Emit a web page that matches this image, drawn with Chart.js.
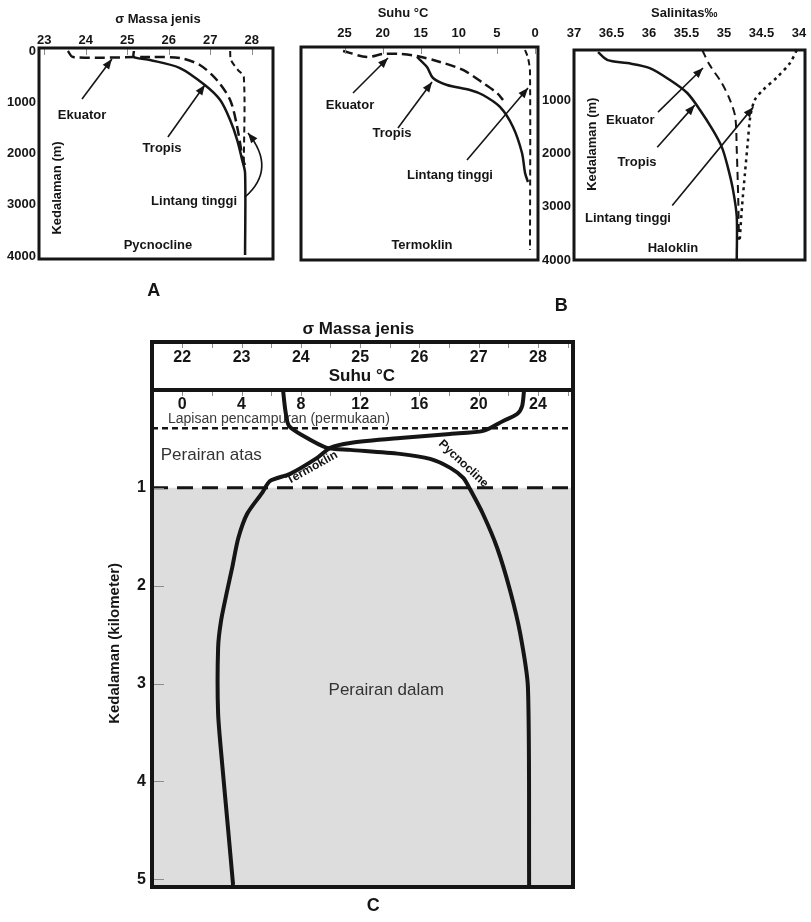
<!DOCTYPE html>
<html lang="id">
<head>
<meta charset="utf-8">
<title>Profil massa jenis, suhu dan salinitas</title>
<script src="https://cdn.jsdelivr.net/npm/chart.js@4.4.1/dist/chart.umd.min.js"></script>
<style>
  html, body { margin: 0; padding: 0; background: #ffffff; }
  #sheet { position: relative; width: 811px; height: 922px; overflow: hidden; background: #ffffff; }
  #sheet canvas { position: absolute; left: 0; top: 0; pointer-events: none; }
</style>
</head>
<body>
<div id="sheet">
  <canvas id="panelA" width="811" height="922"></canvas>
  <canvas id="panelB1" width="811" height="922"></canvas>
  <canvas id="panelB2" width="811" height="922"></canvas>
  <canvas id="panelC" width="811" height="922"></canvas>
</div>
<script>
const INK = '#151515';
const FONT = '"Liberation Sans", Arial, Helvetica, sans-serif';
const W = 811, H = 922;

// ---------- A: sigma-t density profiles (depth in m) ----------
const aSigmaTicks = [23, 24, 25, 26, 27, 28];
const aDepthTicks = [0, 1000, 2000, 3000, 4000];
const aEquatorDepth = [0, 117, 117, 137, 273, 566, 956, 1483, 2127, 2224];
const aEquatorSigma = [23.57, 23.69, 25.6, 26.27, 26.75, 27.16, 27.48, 27.65, 27.79, 27.84];
const aTropicDepth = [0, 117, 176, 332, 663, 956, 1346, 1737, 2127, 2380, 3980];
const aTropicSigma = [25.16, 25.16, 25.55, 26.27, 26.87, 27.24, 27.48, 27.65, 27.77, 27.84, 27.84];
const aPolarDepth = [0, 176, 371, 507, 2224];
const aPolarSigma = [27.48, 27.50, 27.67, 27.81, 27.81];

// ---------- B: temperature profiles (depth in m) ----------
const bTempTicks = [25, 20, 15, 10, 5, 0];
const bEquatorDepth = [20, 135, 77, 77, 116, 232, 386, 638, 831, 966];
const bEquatorTemp = [25.2, 22.06, 19.96, 17.72, 15.49, 12.47, 9.45, 6.83, 4.99, 4.2];
const bTropicDepth = [135, 329, 541, 676, 773, 870, 1101, 1488, 1990, 2377, 2551];
const bTropicTemp = [15.49, 14.18, 13.39, 11.55, 8.53, 6.83, 4.6, 2.89, 1.71, 1.31, 0.92];
const bPolarDepth = [0, 155, 425, 3865];
const bPolarTemp = [1.31, 0.92, 0.66, 0.66];

// ---------- B: salinity profiles (depth in m) ----------
const sSalTicks = [37, 36.5, 36, 35.5, 35, 34.5, 34];
const sDepthTicks = [1000, 2000, 3000, 4000];
const sEquatorDepth = [47, 329, 667, 987, 1306, 1927, 2867, 3618];
const sEquatorSal = [35.29, 35.19, 35.03, 34.92, 34.85, 34.83, 34.81, 34.80];
const sTropicDepth = [85, 235, 291, 385, 611, 855, 1175, 1551, 1870, 2246, 2679, 3186, 3994];
const sTropicSal = [36.68, 36.55, 36.29, 35.99, 35.72, 35.49, 35.32, 35.15, 35.03, 34.95, 34.88, 34.83, 34.83];
const sPolarDepth = [47, 291, 555, 799, 987, 1306, 1739, 2359, 2998, 3618];
const sPolarSal = [34.03, 34.12, 34.29, 34.48, 34.59, 34.65, 34.68, 34.72, 34.76, 34.79];

// ---------- C: combined density / temperature profile (depth in km) ----------
const cSigmaTicks = [22, 23, 24, 25, 26, 27, 28];
const cTempTicks = [0, 4, 8, 12, 16, 20, 24];
const cDepthTicks = [1, 2, 3, 4, 5];
const cLayerDepths = [0.39, 1.0];   // mixed layer base, upper-water base
const cSigmaDepth = [0, 0.214, 0.367, 0.469, 0.592, 0.612, 0.653, 0.704, 0.796, 0.898, 1.01, 1.265, 1.612, 2.051, 2.49, 3.04, 5.06];
const cSigma = [23.70, 23.74, 23.80, 24.04, 24.44, 24.83, 25.67, 26.18, 26.52, 26.74, 26.85, 27.07, 27.31, 27.53, 27.70, 27.83, 27.85];
const cTempDepth = [0, 0.163, 0.245, 0.316, 0.418, 0.449, 0.49, 0.541, 0.592, 0.694, 0.857, 0.929, 1.051, 1.265, 1.52, 1.816, 2.051, 2.357, 2.633, 3.306, 3.816, 4.5, 5.06];
const cTemp = [23.06, 22.93, 22.59, 21.65, 20.30, 18.07, 14.70, 11.33, 9.98, 9.10, 7.28, 5.93, 5.39, 4.38, 3.77, 3.37, 3.03, 2.62, 2.42, 2.42, 2.69, 3.10, 3.43];

// ---------- helpers ----------
const pts = (xs, ys) => xs.map((v, i) => ({ x: v, y: ys[i] }));

function profile(label, xs, ys, width, dash, extra) {
  return Object.assign({
    label, data: pts(xs, ys), borderColor: INK, borderWidth: width,
    borderDash: dash, pointRadius: 0, tension: 0.3, fill: false,
    borderCapStyle: 'butt', borderJoinStyle: 'round'
  }, extra || {});
}

// top value axis; labels are mirrored so they are never clipped to the axis box
// (with mirror, a negative padding lifts them above the frame)
function topAxis(c) {
  return {
    type: 'linear', position: 'top', min: c.min, max: c.max, reverse: !!c.reverse,
    grid: { display: false, drawTicks: false }, border: { display: false },
    ticks: {
      mirror: true, autoSkip: false, maxRotation: 0, minRotation: 0, padding: c.pad, color: INK,
      font: { family: FONT, size: c.size || 13, weight: 'bold' },
      callback: v => String(v)
    },
    afterBuildTicks: s => { s.ticks = c.ticks.map(v => ({ value: v })); },
    afterFit: s => { s.height = 0; }
  };
}

// depth axis on the left, growing downward
function leftAxis(c) {
  if (!c.ticks) return { type: 'linear', display: false, reverse: true, min: c.min, max: c.max };
  return {
    type: 'linear', position: 'left', min: c.min, max: c.max, reverse: true,
    grid: { display: false, drawTicks: false }, border: { display: false },
    ticks: {
      autoSkip: false, padding: c.pad, color: INK,
      font: { family: FONT, size: c.size || 13, weight: 'bold' },
      callback: v => String(v)
    },
    afterBuildTicks: s => { s.ticks = c.ticks.map(v => ({ value: v })); },
    afterFit: s => { s.width = c.width; }
  };
}

function baseOptions(box, yWidth, scales, decor) {
  return {
    responsive: false, animation: false, devicePixelRatio: 1,
    layout: { padding: { left: box[0] - yWidth, top: box[1], right: W - box[2], bottom: H - box[3] } },
    scales,
    plugins: { legend: { display: false }, tooltip: { enabled: false }, decor }
  };
}

const STY = {
  label: { size: 13, weight: 'bold' },
  title: { size: 13, weight: 'bold' },
  letter: { size: 18, weight: 'bold' },
  cTitle: { size: 17, weight: 'bold' },
  region: { size: 17, weight: 'normal', color: '#333333' },
  small: { size: 14, weight: 'normal', color: '#3a3a3a' },
  curve: { size: 12, weight: 'bold' },
  yTitle: { size: 15, weight: 'bold' }
};

function drawArrow(ctx, p) {
  ctx.beginPath();
  ctx.moveTo(p[0][0], p[0][1]);
  if (p.length === 3) ctx.quadraticCurveTo(p[1][0], p[1][1], p[2][0], p[2][1]);
  else ctx.lineTo(p[1][0], p[1][1]);
  ctx.stroke();
  const a = p[p.length - 2], b = p[p.length - 1];
  const ang = Math.atan2(b[1] - a[1], b[0] - a[0]);
  const L = 10, w = 4;
  ctx.beginPath();
  ctx.moveTo(b[0], b[1]);
  ctx.lineTo(b[0] - L * Math.cos(ang) + w * Math.sin(ang), b[1] - L * Math.sin(ang) - w * Math.cos(ang));
  ctx.lineTo(b[0] - L * Math.cos(ang) - w * Math.sin(ang), b[1] - L * Math.sin(ang) + w * Math.cos(ang));
  ctx.closePath();
  ctx.fill();
}

function paint(chart, o, layer) {
  const { ctx, chartArea: a } = chart;
  const xs = chart.scales.x, ys = chart.scales.y;
  const X = v => xs.getPixelForValue(v), Y = v => ys.getPixelForValue(v);
  ctx.save();
  if (layer === 'over') {
    // small tick marks along the frame
    ctx.strokeStyle = '#8c8c8c';
    ctx.lineWidth = 1;
    if (o.xMarks) {
      const rows = o.header ? [a.top - o.header, a.top] : [a.top];
      rows.forEach(r => o.xMarks.values.forEach(v => {
        const px = Math.round(X(v)) + 0.5;
        ctx.beginPath(); ctx.moveTo(px, r); ctx.lineTo(px, r + o.xMarks.len); ctx.stroke();
      }));
    }
    if (o.yMarks) {
      o.yMarks.values.forEach(v => {
        const py = Math.round(Y(v)) + 0.5;
        ctx.beginPath(); ctx.moveTo(a.left, py); ctx.lineTo(a.left + o.yMarks.len, py); ctx.stroke();
      });
    }
    // frame
    ctx.strokeStyle = INK;
    ctx.lineWidth = o.frame;
    ctx.strokeRect(a.left, a.top, a.right - a.left, a.bottom - a.top);
    if (o.header) ctx.strokeRect(a.left, a.top - o.header, a.right - a.left, o.header);
    // pointer arrows
    ctx.lineWidth = 1.6;
    ctx.fillStyle = INK;
    (o.arrows || []).forEach(ar => drawArrow(ctx, ar.map(q => [X(q[0]), Y(q[1])])));
  }
  (o.texts || []).filter(t => (t.layer || 'over') === layer).forEach(t => {
    const s = STY[t.s];
    ctx.save();
    ctx.font = `${s.weight} ${s.size}px ${FONT}`;
    ctx.fillStyle = s.color || INK;
    ctx.textAlign = 'center';
    ctx.textBaseline = 'middle';
    ctx.translate(X(t.x), Y(t.y));
    if (t.rot) ctx.rotate(t.rot * Math.PI / 180);
    ctx.fillText(t.t, 0, 0);
    ctx.restore();
  });
  ctx.restore();
}

const decorPlugin = {
  id: 'decor',
  beforeDatasetsDraw(chart, args, o) { paint(chart, o, 'under'); },
  afterDatasetsDraw(chart, args, o) { paint(chart, o, 'over'); }
};
Chart.register(decorPlugin);

// ---------- A ----------
new Chart(document.getElementById('panelA'), {
  type: 'line',
  data: { datasets: [
    profile('Ekuator', aEquatorSigma, aEquatorDepth, 2.5, [10, 5]),
    profile('Tropis', aTropicSigma, aTropicDepth, 2.5, []),
    profile('Lintang tinggi', aPolarSigma, aPolarDepth, 2, [6, 4])
  ] },
  options: baseOptions([39, 48, 273, 259], 39, {
    x: topAxis({ min: 22.873, max: 28.513, ticks: aSigmaTicks, pad: -15 }),
    y: leftAxis({ min: -59, max: 4059, ticks: aDepthTicks, pad: 3, width: 39 })
  }, {
    frame: 3,
    xMarks: { values: aSigmaTicks, len: 7 },
    arrows: [
      [[23.91, 937], [24.63, 156]],
      [[25.98, 1678], [26.87, 663]],
      [[27.84, 2849], [28.61, 2302], [27.91, 1600]]
    ],
    texts: [
      { t: 'σ Massa jenis', x: 25.74, y: -624, s: 'title' },
      { t: 'Ekuator', x: 23.91, y: 1249, s: 'label' },
      { t: 'Tropis', x: 25.84, y: 1893, s: 'label' },
      { t: 'Lintang tinggi', x: 26.61, y: 2927, s: 'label' },
      { t: 'Pycnocline', x: 25.74, y: 3785, s: 'label' },
      { t: 'Kedalaman (m)', x: 23.31, y: 2673, s: 'label', rot: -90 },
      { t: 'A', x: 25.64, y: 4683, s: 'letter' }
    ]
  })
});

// ---------- B: temperature ----------
new Chart(document.getElementById('panelB1'), {
  type: 'line',
  data: { datasets: [
    profile('Ekuator', bEquatorTemp, bEquatorDepth, 2.5, [10, 5]),
    profile('Tropis', bTropicTemp, bTropicDepth, 2.5, []),
    profile('Lintang tinggi', bPolarTemp, bPolarDepth, 2, [6, 4])
  ] },
  options: baseOptions([301, 47, 538, 260], 0, {
    x: topAxis({ min: -0.39, max: 30.72, reverse: true, ticks: bTempTicks, pad: -21 }),
    y: leftAxis({ min: -58, max: 4058 })
  }, {
    frame: 3,
    xMarks: { values: bTempTicks, len: 7 },
    arrows: [
      [[23.89, 831], [19.3, 155]],
      [[17.99, 1507], [13.52, 618]],
      [[8.93, 2126], [0.92, 734]]
    ],
    texts: [
      { t: 'Suhu °C', x: 17.33, y: -715, s: 'title' },
      { t: 'Ekuator', x: 24.29, y: 1063, s: 'label' },
      { t: 'Tropis', x: 18.77, y: 1604, s: 'label' },
      { t: 'Lintang tinggi', x: 11.16, y: 2415, s: 'label' },
      { t: 'Termoklin', x: 14.84, y: 3768, s: 'label' }
    ]
  })
});

// ---------- B: salinity ----------
new Chart(document.getElementById('panelB2'), {
  type: 'line',
  data: { datasets: [
    profile('Ekuator', sEquatorSal, sEquatorDepth, 2, [8, 5]),
    profile('Tropis', sTropicSal, sTropicDepth, 2.5, []),
    profile('Lintang tinggi', sPolarSal, sPolarDepth, 2.5, [3, 4])
  ] },
  options: baseOptions([574, 50, 805, 260], 36, {
    x: topAxis({ min: 33.92, max: 37, reverse: true, ticks: sSalTicks, pad: -24 }),
    y: leftAxis({ min: 45, max: 4000, ticks: sDepthTicks, pad: 3, width: 36 })
  }, {
    frame: 3,
    arrows: [
      [[35.88, 1215], [35.28, 385]],
      [[35.89, 1876], [35.39, 1083]],
      [[35.69, 2973], [34.61, 1121]]
    ],
    texts: [
      { t: 'Salinitas‰', x: 35.53, y: -653, s: 'title' },
      { t: 'Ekuator', x: 36.25, y: 1366, s: 'label' },
      { t: 'Tropis', x: 36.16, y: 2159, s: 'label' },
      { t: 'Lintang tinggi', x: 36.28, y: 3217, s: 'label' },
      { t: 'Haloklin', x: 35.68, y: 3783, s: 'label' },
      { t: 'Kedalaman (m)', x: 36.75, y: 1820, s: 'label', rot: -90 },
      { t: 'B', x: 37.17, y: 4859, s: 'letter' }
    ]
  })
});

// ---------- C ----------
const cSigmaRange = [21.49, 28.59];
const cHalfMarks = [];
for (let v = 22; v <= 28.5; v += 0.5) cHalfMarks.push(v);

new Chart(document.getElementById('panelC'), {
  type: 'line',
  data: { datasets: [
    profile('Pycnocline', cSigma, cSigmaDepth, 4, [], { tension: 0.25 }),
    profile('Termoklin', cTemp, cTempDepth, 4, [], { xAxisID: 'x2', tension: 0.25 }),
    profile('Lapisan pencampuran', cSigmaRange, [cLayerDepths[0], cLayerDepths[0]], 2.5, [6, 4], { tension: 0 }),
    profile('Perairan dalam', cSigmaRange, [cLayerDepths[1], cLayerDepths[1]], 3, [16, 9],
      { tension: 0, fill: 'start', backgroundColor: '#dddddd' })
  ] },
  options: baseOptions([152, 390, 573, 887], 40, {
    x: topAxis({ min: cSigmaRange[0], max: cSigmaRange[1], ticks: cSigmaTicks, pad: -42, size: 16 }),
    x2: topAxis({ min: (cSigmaRange[0] - 22) * 4, max: (cSigmaRange[1] - 22) * 4, ticks: cTempTicks, pad: 5, size: 16 }),
    y: leftAxis({ min: 0, max: 5.08, ticks: cDepthTicks, pad: 6, size: 16, width: 40 })
  }, {
    frame: 4,
    header: 48,
    xMarks: { values: cHalfMarks, len: 6 },
    yMarks: { values: cDepthTicks, len: 12 },
    texts: [
      { t: 'σ Massa jenis', x: 24.97, y: -0.624, s: 'cTitle' },
      { t: 'Suhu °C', x: 25.03, y: -0.145, s: 'cTitle' },
      { t: 'Lapisan pencampuran (permukaan)', x: 23.63, y: 0.294, s: 'small', layer: 'under' },
      { t: 'Perairan atas', x: 22.49, y: 0.671, s: 'region' },
      { t: 'Perairan dalam', x: 25.44, y: 3.069, s: 'region' },
      { t: 'Termoklin', x: 24.19, y: 0.794, s: 'curve', rot: -29 },
      { t: 'Pycnocline', x: 26.74, y: 0.753, s: 'curve', rot: 43 },
      { t: 'Kedalaman (kilometer)', x: 20.87, y: 2.59, s: 'yTitle', rot: -90 },
      { t: 'C', x: 25.22, y: 5.274, s: 'letter' }
    ]
  })
});
</script>
</body>
</html>
